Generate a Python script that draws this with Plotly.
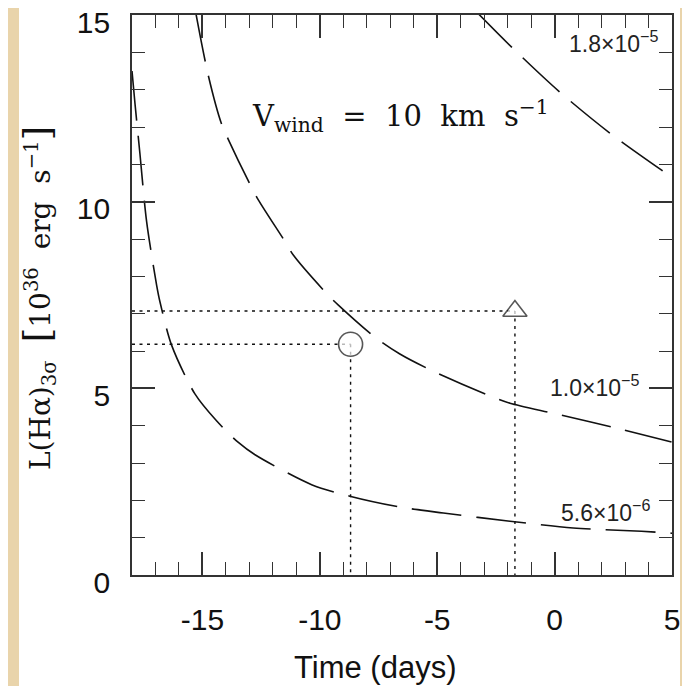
import plotly.graph_objects as go

# ---- data ----
low_t = [-18.0, -17.87, -17.66, -17.38, -16.95, -16.81, -16.31, -15.32, -14.4, -13.47, -12.76, -10.35, -8.72, -6.59, -4.74, -1.9, 0.79, 3.7, 5.0]
low_L = [13.5, 12.61, 11.27, 9.48, 7.76, 7.32, 6.15, 4.85, 4.13, 3.55, 3.22, 2.42, 2.11, 1.82, 1.66, 1.44, 1.26, 1.17, 1.12]

mid_t = [-15.29, -14.75, -14.18, -13.9, -12.97, -12.62, -11.48, -11.13, -9.71, -9.21, -7.65, -6.59, -5.24, -2.61, -1.9, 0.09, 2.78, 4.98]
mid_L = [15.08, 13.38, 12.07, 11.67, 10.46, 10.05, 8.93, 8.57, 7.54, 7.23, 6.37, 5.92, 5.48, 4.76, 4.60, 4.31, 3.91, 3.56]

high_t = [-3.32, -1.83, 0.23, 2.43, 4.77, 5.0]
high_L = [15.08, 14.14, 12.93, 11.8, 10.75, 10.65]

curve_labels = ["5.6×10<sup>−6</sup>", "1.0×10<sup>−5</sup>", "1.8×10<sup>−5</sup>"]
label_t = [2.15, 1.7, 2.49]
label_L = [1.72, 5.06, 14.27]

obs_t = [-8.69, -1.69]
obs_L = [6.18, 7.07]
obs_symbols = ["circle", "triangle-up"]

x_range = [-18, 5]
y_range = [0, 15]
x_ticks = [-15, -10, -5, 0, 5]
x_ticktext = ["-15", "-10", "-5", "0", "5"]
y_ticks = [0, 5, 10, 15]
y_ticktext = ["0", "5", "10", "15"]

# ---- figure ----
fig = go.Figure()
ink = "#111111"
curve_line = dict(color=ink, width=1.6, dash="50px,15px", shape="spline", smoothing=0.8)

# dotted guide lines (from observation points to the axes)
for t, L in zip(obs_t, obs_L):
    fig.add_trace(go.Scatter(x=[x_range[0], t], y=[L, L], mode="lines",
                             line=dict(color=ink, width=1.4, dash="3px,4.5px"),
                             hoverinfo="skip", showlegend=False))
    fig.add_trace(go.Scatter(x=[t, t], y=[L, y_range[0]], mode="lines",
                             line=dict(color=ink, width=1.4, dash="3px,4.5px"),
                             hoverinfo="skip", showlegend=False))

for tt, LL in [(low_t, low_L), (mid_t, mid_L), (high_t, high_L)]:
    fig.add_trace(go.Scatter(x=tt, y=LL, mode="lines", line=curve_line, showlegend=False))

fig.add_trace(go.Scatter(x=obs_t, y=obs_L, mode="markers",
                         marker=dict(symbol=obs_symbols, size=[24, 21], color="white",
                                     line=dict(color=ink, width=1.6)),
                         showlegend=False))

for txt, t, L in zip(curve_labels, label_t, label_L):
    fig.add_annotation(x=t, y=L, text=txt, showarrow=False, xanchor="center", yanchor="middle",
                       font=dict(family="Liberation Sans", size=23, color="#222222"))

fig.add_annotation(x=-6.58, y=12.3, showarrow=False, xanchor="center", yanchor="middle",
                   text="V<sub>wind</sub> &nbsp;= &nbsp;10 &nbsp;km &nbsp;s<sup>−1</sup>",
                   font=dict(family="DejaVu Serif", size=29, color=ink))

# axis titles
fig.add_annotation(xref="paper", yref="paper", x=(375 - 132) / 540, y=(575 - 667) / 560,
                   text="Time (days)", showarrow=False, xanchor="center", yanchor="middle",
                   font=dict(family="Liberation Sans", size=31, color=ink))
fig.add_annotation(xref="paper", yref="paper", x=(38 - 132) / 540, y=(575 - 298) / 560,
                   text="L(Hα)<sub>3σ</sub> &nbsp;<span style='font-size:38px'>[</span>10<sup>36</sup> &nbsp;erg &nbsp;s<sup>−1</sup><span style='font-size:38px'>]</span>",
                   textangle=-90, showarrow=False, xanchor="center", yanchor="middle",
                   font=dict(family="DejaVu Serif", size=28, color=ink))

# white panel behind figure
fig.add_shape(type="rect", xref="paper", yref="paper", layer="below",
              x0=(11 - 124) / 540, x1=(672 - 124) / 540,
              y0=(567 - 690) / 560, y1=(567 + 2) / 560,
              fillcolor="white", line=dict(width=0))

axis_common = dict(showgrid=False, zeroline=False, showline=True, linecolor="#333333", linewidth=1.6,
                   mirror="allticks", ticks="inside", ticklen=23, tickwidth=1.5, tickcolor="#333333",
                   ticklabeloverflow="allow", automargin=False,
                   tickfont=dict(family="Liberation Sans", size=30, color=ink))

fig.update_xaxes(range=x_range, tickvals=x_ticks, ticktext=x_ticktext, ticklabelstandoff=17,
                 minor=dict(ticks="inside", dtick=1, ticklen=13, tickwidth=1.3, tickcolor="#333333"),
                 **axis_common)
fig.update_yaxes(range=y_range, tickvals=y_ticks, ticktext=y_ticktext, ticklabelstandoff=14, ticklabelshift=7,
                 minor=dict(ticks="inside", dtick=1, ticklen=13, tickwidth=1.3, tickcolor="#333333"),
                 **axis_common)

# figure sits 8px in from the page corner, so margins are offset accordingly
fig.update_layout(width=690, height=686, margin=dict(l=124, r=26, t=7, b=119, autoexpand=False),
                  paper_bgcolor="#E9D4AB", plot_bgcolor="white")

fig.write_html("out.html")
